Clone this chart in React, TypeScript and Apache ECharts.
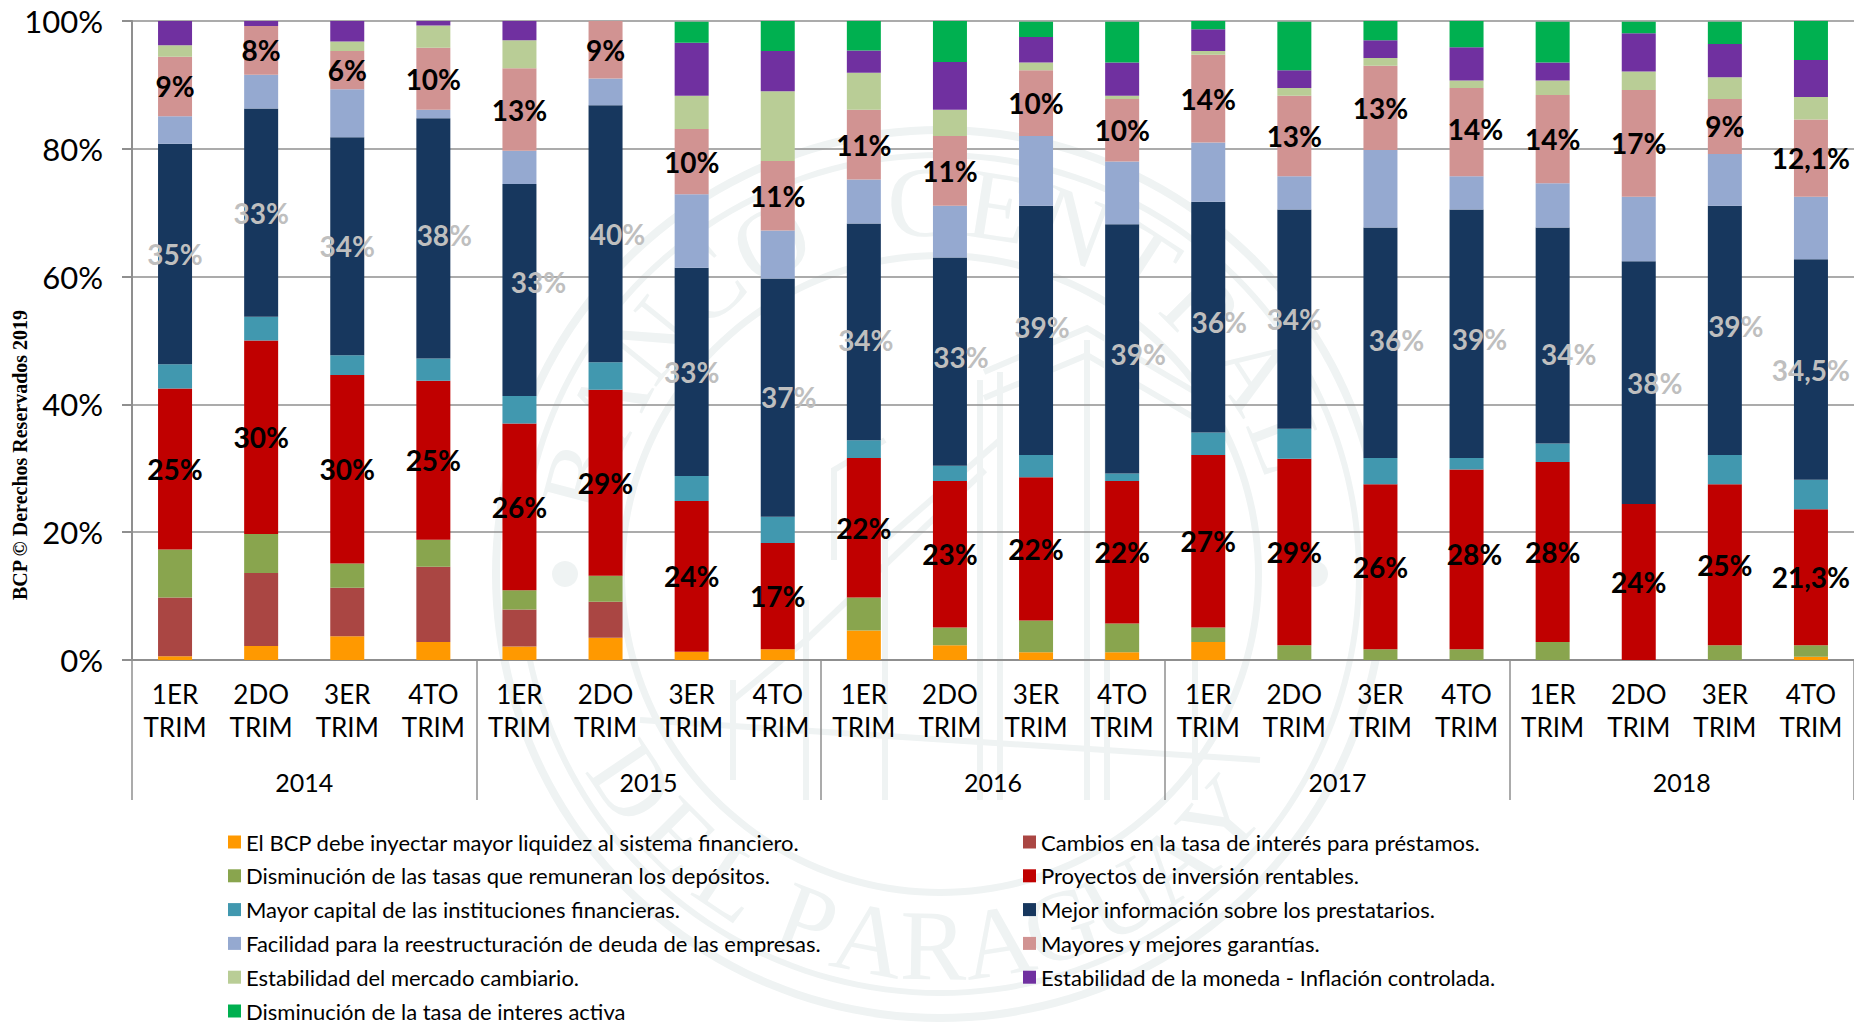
import React, { useEffect, useRef } from "react";
import * as echarts from "echarts";

const quarters = [
  "1ER\nTRIM", "2DO\nTRIM", "3ER\nTRIM", "4TO\nTRIM",
  "1ER\nTRIM", "2DO\nTRIM", "3ER\nTRIM", "4TO\nTRIM",
  "1ER\nTRIM", "2DO\nTRIM", "3ER\nTRIM", "4TO\nTRIM",
  "1ER\nTRIM", "2DO\nTRIM", "3ER\nTRIM", "4TO\nTRIM",
  "1ER\nTRIM", "2DO\nTRIM", "3ER\nTRIM", "4TO\nTRIM",
];
const years = ["2014", "2015", "2016", "2017", "2018"];

const liquidez = [0.6, 2.2, 3.7, 2.8, 2.1, 3.5, 1.3, 1.7, 4.6, 2.3, 1.2, 1.2, 2.8, 0, 0, 0, 0, 0, 0, 0.5];
const cambiosTasa = [9.2, 11.4, 7.6, 11.8, 5.8, 5.6, 0, 0, 0, 0, 0, 0, 0, 0, 0, 0, 0, 0, 0, 0];
const tasasDepositos = [7.5, 6.1, 3.8, 4.2, 3.0, 4.1, 0, 0, 5.2, 2.8, 5.0, 4.5, 2.3, 2.3, 1.7, 1.7, 2.8, 0, 2.3, 1.8];
const proyectos = [25.2, 30.3, 29.5, 24.9, 26.1, 29.1, 23.6, 16.6, 21.8, 22.9, 22.4, 22.3, 27.0, 29.2, 25.8, 28.1, 28.2, 24.4, 25.2, 21.3];
const capital = [3.8, 3.7, 3.1, 3.5, 4.3, 4.3, 3.9, 4.1, 2.8, 2.4, 3.5, 1.2, 3.5, 4.7, 4.1, 1.8, 2.9, 0, 4.6, 4.6];
const informacion = [34.5, 32.6, 34.1, 37.6, 33.2, 40.2, 32.6, 37.3, 33.9, 32.6, 39.0, 39.0, 36.1, 34.3, 36.1, 38.9, 33.8, 38.0, 39.0, 34.5];
const reestructuracion = [4.3, 5.3, 7.5, 1.3, 5.2, 4.2, 11.5, 7.5, 6.9, 8.1, 10.9, 9.8, 9.3, 5.2, 12.1, 5.2, 6.9, 10.1, 8.1, 9.8];
const garantias = [9.3, 7.6, 6.0, 9.7, 12.9, 9.0, 10.2, 10.9, 10.9, 10.9, 10.3, 9.8, 13.7, 12.6, 13.2, 13.8, 13.8, 16.7, 8.6, 12.1];
const cambiario = [1.8, 0, 1.5, 3.5, 4.4, 0, 5.2, 10.9, 5.8, 4.1, 1.2, 0.5, 0.6, 1.2, 1.2, 1.2, 2.3, 2.9, 3.4, 3.5];
const moneda = [3.8, 0.8, 3.2, 0.8, 3.0, 0, 8.3, 6.3, 3.5, 7.5, 4.0, 5.2, 3.4, 2.8, 2.8, 5.2, 2.8, 6.0, 5.2, 5.8];
const tasaActiva = [0, 0, 0, 0, 0, 0, 3.3, 4.7, 4.7, 6.4, 2.4, 6.4, 1.3, 7.6, 3.0, 4.1, 6.4, 1.8, 3.5, 6.4];

const proyectosLabels = ["25%", "30%", "30%", "25%", "26%", "29%", "24%", "17%", "22%", "23%", "22%", "22%", "27%", "29%", "26%", "28%", "28%", "24%", "25%", "21,3%"];
const informacionLabels = ["35%", "33%", "34%", "38%", "33%", "40%", "33%", "37%", "34%", "33%", "39%", "39%", "36%", "34%", "36%", "39%", "34%", "38%", "39%", "34,5%"];
const garantiasLabels = ["9%", "8%", "6%", "10%", "13%", "9%", "10%", "11%", "11%", "11%", "10%", "10%", "14%", "13%", "13%", "14%", "14%", "17%", "9%", "12,1%"];

// hand-moved labels of the original (px)
const informacionOffsets = [[0, 0], [0, 0], [0, 0], [11, -3], [19, -8], [12, 0], [0, 0], [11, -1], [2, 8], [11, -5], [6, -3], [16, 5], [11, 5], [0, 0], [16, -3], [13, 5], [16, 19], [16, 0], [11, -4], [0, 0]];
const proyectosOffsets = proyectosLabels.map((_, i) => (i === 15 ? [8, -5] : [0, 0]));
const garantiasOffsets = garantiasLabels.map((_, i) => (i === 15 ? [9, -3] : [0, 0]));

const FONT = "Lato";
const GRAY = "#8f8f8f";
const WM = "#eff3f3";
const WM_Z = -10;

const wmCx = 940;
const wmCy = 574;
const topLetters = "BANCO CENTRAL";
const bottomLetters = "DELPARAGUAY";
const bottomAngles = [-56, -45, -34, -21, -11, -1, 9, 19, 29, 39, 49];

function watermark() {
  const els: any[] = [];
  [[448, 440], [422, 416], [322, 315]].forEach(([r, r0]) =>
    els.push({ type: "ring", z: WM_Z, shape: { cx: wmCx, cy: wmCy, r, r0 }, style: { fill: WM } })
  );
  [-1, 1].forEach((s) =>
    els.push({ type: "circle", z: WM_Z, shape: { cx: wmCx + s * 375, cy: wmCy, r: 13 }, style: { fill: WM } })
  );
  const r = 372;
  const letter = (ch: string, x: number, y: number, rotation: number) =>
    els.push({
      type: "text", z: WM_Z, x, y, rotation,
      style: { text: ch, fill: WM, font: '100px "Liberation Serif"', textAlign: "center", textVerticalAlign: "middle" },
    });
  topLetters.split("").forEach((ch, i) => {
    if (ch === " ") return;
    const a = ((-75 + i * 12) * Math.PI) / 180;
    letter(ch, wmCx + r * Math.sin(a), wmCy - r * Math.cos(a), -a);
  });
  bottomLetters.split("").forEach((ch, i) => {
    const a = (bottomAngles[i] * Math.PI) / 180;
    letter(ch, wmCx + r * Math.sin(a), wmCy + r * Math.cos(a), a);
  });
  const lines = [
    [[984, 372], [1087, 328], [1195, 392]],
    [[984, 398], [1087, 355], [1195, 418]],
    [[885, 540], [1000, 440]],
    [[806, 640], [985, 470]],
    [[733, 700], [806, 640]],
    [[980, 380], [980, 800]],
    [[1000, 372], [1000, 800]],
    [[1087, 340], [1087, 800]],
    [[1107, 340], [1107, 800]],
    [[1195, 400], [1195, 800]],
    [[885, 520], [885, 800]],
    [[806, 600], [806, 800]],
    [[733, 680], [733, 780]],
    [[640, 720], [1260, 760]],
    [[834, 560], [834, 470], [885, 440]],
  ];
  lines.forEach((points) =>
    els.push({ type: "polyline", z: WM_Z, shape: { points }, style: { stroke: WM, lineWidth: 6, fill: "none" } })
  );
  return els;
}

function labelled(values: number[], texts: string[], offsets: number[][]) {
  return values.map((value, i) => ({
    value,
    label: { offset: offsets[i], formatter: texts[i] },
  }));
}

function bar(name: string, color: string, data: any[], labelColor?: string) {
  return {
    name,
    type: "bar",
    stack: "total",
    barWidth: 34,
    itemStyle: { color },
    data,
    label: labelColor
      ? { show: true, position: "inside", color: labelColor, fontFamily: FONT, fontWeight: "bold", fontSize: 28 }
      : { show: false },
  };
}

const leftLegend = [
  "El BCP debe inyectar mayor liquidez al sistema financiero.",
  "Disminución de las tasas que remuneran los depósitos.",
  "Mayor capital de las instituciones financieras.",
  "Facilidad para la reestructuración de deuda de las empresas.",
  "Estabilidad del mercado cambiario.",
  "Disminución de la tasa de interes activa",
];
const rightLegend = [
  "Cambios en la tasa de interés para préstamos.",
  "Proyectos de inversión rentables.",
  "Mejor información sobre los prestatarios.",
  "Mayores y mejores garantías.",
  "Estabilidad de la moneda - Inflación controlada.",
];

function legendOf(data: string[], left: number) {
  return {
    orient: "vertical",
    left,
    top: 831,
    height: 220,
    padding: 0,
    itemWidth: 13,
    itemHeight: 13,
    itemGap: 11.8,
    selectedMode: false,
    icon: "rect",
    data,
    textStyle: { fontFamily: FONT, fontSize: 22, color: "#000", lineHeight: 22 },
  };
}

export default function App() {
  const ref = useRef<HTMLDivElement>(null);
  useEffect(() => {
    const chart = echarts.init(ref.current!, undefined, { renderer: "svg" });
    chart.setOption({
      animation: false,
      backgroundColor: "#fff",
      grid: { left: 132, top: 21, width: 1723, height: 639, containLabel: false },
      legend: [legendOf(leftLegend, 228), legendOf(rightLegend, 1023)],
      xAxis: [
        {
          type: "category",
          data: quarters,
          axisLine: { show: true, lineStyle: { color: GRAY, width: 2 } },
          axisTick: { show: false },
          axisLabel: { interval: 0, margin: 17, color: "#000", fontFamily: FONT, fontSize: 26, lineHeight: 33, align: "center" },
        },
        {
          type: "category",
          position: "bottom",
          data: years,
          axisLine: { show: false },
          axisTick: { show: true, length: 140, lineStyle: { color: GRAY, width: 1.5 } },
          axisLabel: { interval: 0, margin: 109, color: "#000", fontFamily: FONT, fontSize: 25 },
        },
      ],
      yAxis: {
        type: "value",
        min: 0,
        max: 100,
        interval: 20,
        axisLine: { show: true, lineStyle: { color: GRAY, width: 2 } },
        axisTick: { show: true, length: 10, lineStyle: { color: GRAY, width: 2 } },
        splitLine: { show: true, lineStyle: { color: GRAY, width: 1.5 } },
        axisLabel: { margin: 29, formatter: "{value}%", color: "#000", fontFamily: FONT, fontSize: 31 },
      },
      graphic: {
        elements: [
          ...watermark(),
          {
            type: "text",
            x: 20,
            y: 455,
            rotation: Math.PI / 2,
            style: {
              text: "BCP © Derechos Reservados 2019",
              fill: "#000",
              font: 'bold 20px "Liberation Serif"',
              textAlign: "center",
              textVerticalAlign: "middle",
            },
          },
        ],
      },
      series: [
        bar(leftLegend[0], "#FF9900", liquidez),
        bar(rightLegend[0], "#AA4643", cambiosTasa),
        bar(leftLegend[1], "#89A54E", tasasDepositos),
        bar(rightLegend[1], "#C00000", labelled(proyectos, proyectosLabels, proyectosOffsets), "#000"),
        bar(leftLegend[2], "#4198AF", capital),
        bar(rightLegend[2], "#17375E", labelled(informacion, informacionLabels, informacionOffsets), "#BFBFBF"),
        bar(leftLegend[3], "#95A9D0", reestructuracion),
        bar(rightLegend[3], "#D19392", labelled(garantias, garantiasLabels, garantiasOffsets), "#000"),
        bar(leftLegend[4], "#B9CD96", cambiario),
        bar(rightLegend[4], "#7030A0", moneda),
        bar(leftLegend[5], "#00B050", tasaActiva),
      ],
    });
    return () => chart.dispose();
  }, []);
  return <div ref={ref} style={{ position: "absolute", left: 0, top: 0, width: 1854, height: 1023 }} />;
}
